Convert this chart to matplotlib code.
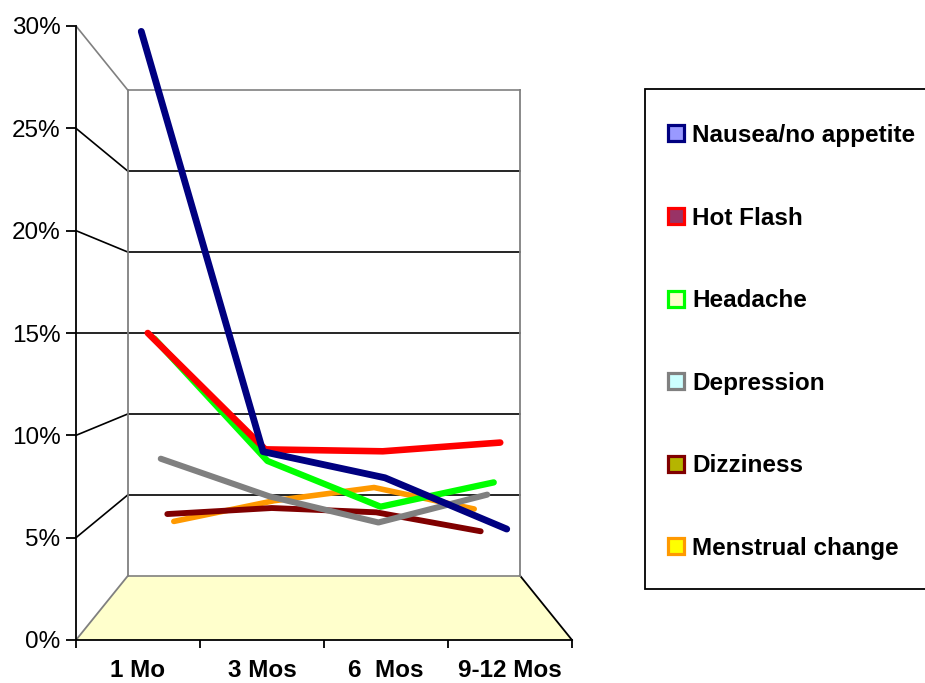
import matplotlib
matplotlib.use("Agg")
import matplotlib.pyplot as plt
from matplotlib.transforms import Affine2D
from matplotlib.lines import Line2D
from matplotlib.patches import Polygon, Rectangle

plt.rcParams['font.family'] = ['Liberation Sans', 'DejaVu Sans']

# data (percent)
categories = ["1 Mo", "3 Mos", "6  Mos", "9-12 Mos"]
series_names = ["Nausea/no appetite", "Hot Flash", "Headache",
                "Depression", "Dizziness", "Menstrual change"]
nausea = [30.0, 9.1, 7.8, 5.25]
hot_flash = [15.0, 9.0, 8.9, 9.35]
headache = [14.7, 8.15, 5.7, 7.0]
depression = [8.0, 5.9, 4.45, 6.0]
dizziness = [4.5, 4.85, 4.6, 3.5]
menstrual = [3.6, 4.85, 5.65, 4.35]
values = [nausea, hot_flash, headache, depression, dizziness, menstrual]

line_colors = ["#000080", "#FF0000", "#00FF00", "#808080", "#800000", "#FF9900"]
fill_colors = ["#9999FF", "#993366", "#FFFFCC", "#CCFFFF", "#B5B500", "#FFFF00"]

W, H = 925, 683
fig = plt.figure(figsize=(W / 100, H / 100), dpi=100)
ax = fig.add_axes([76 / W, (H - 640) / H, 496 / W, 614 / H])
ax.set_xlim(0, 4)
ax.set_ylim(0, 30)

# one-point perspective: planes further back shrink toward the centre
VX, VY = 2.0, 15.0
S_BACK = 0.79


def depth(s):
    return Affine2D().translate(-VX, -VY).scale(s).translate(VX, VY)


back = depth(S_BACK)
gray = "#808080"

# floor
floor = [(0, 0), (4, 0), tuple(back.transform((4, 0))), tuple(back.transform((0, 0)))]
ax.add_patch(Polygon(floor, closed=True, facecolor="#FFFFCC", edgecolor="none",
                     zorder=1, clip_on=False))
bl = back.transform((0, 0))
br = back.transform((4, 0))
ax.plot([0, bl[0]], [0, bl[1]], color=gray, lw=1.3, clip_on=False, zorder=2)
ax.plot([4, br[0]], [0, br[1]], color="black", lw=1.3, clip_on=False, zorder=2)

# back wall and left wall lines
for v in range(0, 31, 5):
    c = gray if v in (0, 30) else "black"
    ax.plot([0, 4], [v, v], color=c, lw=1.2, transform=back + ax.transData,
            clip_on=False, zorder=2)
    if v > 0:
        p = back.transform((0, v))
        ax.plot([0, p[0]], [v, p[1]], color=c, lw=1.2, clip_on=False, zorder=2)
for x in (0, 4):
    ax.plot([x, x], [0, 30], color=gray, lw=1.3, transform=back + ax.transData,
            clip_on=False, zorder=2)

# series, drawn back to front
xs = [0.5, 1.5, 2.5, 3.5]
n = len(values)
for i in reversed(range(n)):
    t = (i + 0.5) / n
    s = 1 - t * (1 - S_BACK)
    ax.plot(xs, values[i], color=line_colors[i], lw=5.0 * s,
            solid_capstyle="round", solid_joinstyle="round",
            transform=depth(s) + ax.transData, clip_on=False, zorder=3 + (n - i))

# axes
for side in ("top", "right"):
    ax.spines[side].set_visible(False)
for side in ("left", "bottom"):
    ax.spines[side].set_color("black")
    ax.spines[side].set_linewidth(1.3)
    ax.spines[side].set_zorder(10)
ax.set_yticks(range(0, 31, 5))
ax.set_yticklabels([f"{v}%" for v in range(0, 31, 5)], fontsize=17.5)
ax.tick_params(axis="y", length=7.2, width=1.3, pad=4)
ax.set_xticks([0, 1, 2, 3, 4])
ax.set_xticklabels([])
ax.set_xticks(xs, minor=True)
ax.set_xticklabels(categories, minor=True, fontsize=17.5, fontweight="bold")
ax.tick_params(axis="x", which="major", length=6, width=1.3)
ax.tick_params(axis="x", which="minor", length=0, pad=14)
ax.patch.set_visible(False)

# legend
fig.patches.append(Rectangle((645 / W, (H - 589) / H), 300 / W, 500 / H,
                             transform=fig.transFigure, facecolor="white",
                             edgecolor="black", lw=1.3, zorder=0))
handles = [Line2D([], [], linestyle="none", marker="s", markersize=11,
                  markeredgewidth=2.3, markeredgecolor=lc, markerfacecolor=fc)
           for lc, fc in zip(line_colors, fill_colors)]
leg = fig.legend(handles, series_names, loc="upper left",
                 bbox_to_anchor=(666.5 / W, (H - 124) / H), frameon=False,
                 borderpad=0, borderaxespad=0, handlelength=0.78,
                 handletextpad=0.27, labelspacing=2.45,
                 prop={"size": 17.5, "weight": "bold"})

fig.savefig("out.png", dpi=100)
